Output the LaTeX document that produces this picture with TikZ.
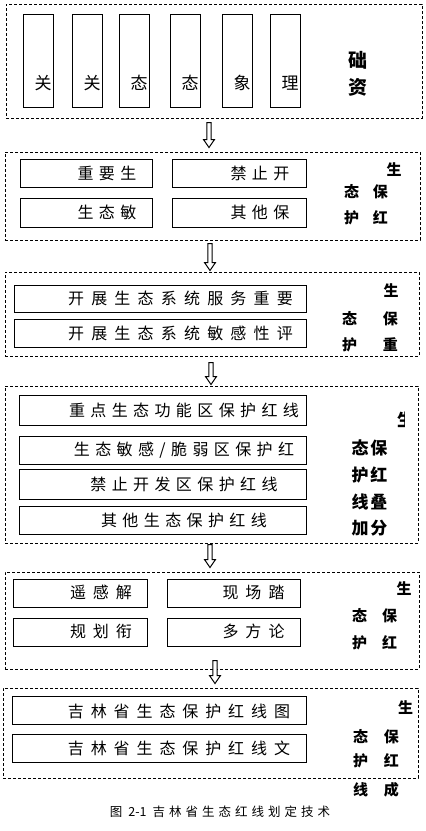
\documentclass[tikz,border=0pt]{standalone}
\usepackage{fontspec}
\setmainfont{Noto Sans CJK SC}
\usetikzlibrary{calc}
\makeatletter
\newcommand\cjkspread[2]{\@tfor\cjk@ch:=#2\do{\cjk@ch\hspace{#1}}\unskip}
\makeatother

\begin{document}
\begin{tikzpicture}[x=1pt, y=-1pt, line width=1pt,
  grp/.style={draw, dash pattern=on 3pt off 2pt, inner sep=0pt},
  tbox/.style={draw, inner sep=0pt},
  txt/.style={font=\fontsize{16pt}{18pt}\selectfont, inner sep=0pt},
  lbl/.style={font=\fontsize{15pt}{17pt}\selectfont\bfseries, inner sep=0pt},
  darrow/.style={fill=white, to path={let \p1=(\tikztostart), \p2=(\tikztotarget) in
    (\x1-2.2pt,\y1) -- (\x1-2.2pt,\y2+8pt) -- (\x1-5.5pt,\y2+8pt) -- (\x1,\y2)
    -- (\x1+5.5pt,\y2+8pt) -- (\x1+2.2pt,\y2+8pt) -- (\x1+2.2pt,\y1) -- cycle}}]
\path[use as bounding box, fill=white] (0,0) rectangle (426,831);

% ---- group 1: base data ----
\node[grp, minimum width=416pt, minimum height=114pt] (g1) at (214,61) {};
\foreach \cx/\ch [count=\i] in {38/关,87/关,134/态,185/态,237/象,285/理} {
  \node[tbox, minimum width=30pt, minimum height=93pt] (c\i) at (\cx,60.5) {};
  \node[txt, font=\fontsize{17pt}{19pt}\selectfont] (ct\i) at (\cx+5,83) {\ch};
}
\node[lbl, font=\fontsize{19pt}{27pt}\selectfont\bfseries, align=center] (l1) at (358,73.5) {础\\资};

% ---- group 2 ----
\node[grp, minimum width=415pt, minimum height=88pt] (g2) at (212.5,196) {};
\node[tbox, minimum width=132pt, minimum height=28pt] (b21) at (86,173) {};
\node[tbox, minimum width=134pt, minimum height=28pt] (b22) at (239,173) {};
\node[tbox, minimum width=132pt, minimum height=29pt] (b23) at (86,212.5) {};
\node[tbox, minimum width=134pt, minimum height=29pt] (b24) at (239,212.5) {};
\node[txt] (t21) at (107,173) {\cjkspread{5.5pt}{重要生}};
\node[txt] (t22) at (260,173) {\cjkspread{5.5pt}{禁止开}};
\node[txt] (t23) at (107,212) {\cjkspread{5.5pt}{生态敏}};
\node[txt] (t24) at (260,212) {\cjkspread{5.5pt}{其他保}};
\node[lbl] (l2a) at (394,170) {生};
\node[lbl] (l2b) at (366,192) {态\hspace{14pt}保};
\node[lbl] (l2c) at (366,218) {护\hspace{14pt}红};

% ---- group 3 ----
\node[grp, minimum width=414pt, minimum height=84pt] (g3) at (212,314) {};
\node[tbox, minimum width=292pt, minimum height=27pt] (b31) at (160,298.5) {};
\node[tbox, minimum width=292pt, minimum height=28pt] (b32) at (160,333) {};
\node[txt] (t31) at (180.5,298) {\cjkspread{7.2pt}{开展生态系统服务重要}};
\node[txt] (t32) at (180.5,333) {\cjkspread{7.2pt}{开展生态系统敏感性评}};
\node[lbl] (l3a) at (391,291) {生};
\node[lbl] (l3b) at (370,319) {态\hspace{26pt}保};
\node[lbl] (l3c) at (370,345) {护\hspace{26pt}重};

% ---- group 4 ----
\node[grp, minimum width=413pt, minimum height=157pt] (g4) at (211.5,464.5) {};
\node[tbox, minimum width=287pt, minimum height=30pt] (b41) at (162.5,410) {};
\node[tbox, minimum width=287pt, minimum height=28pt] (b42) at (162.5,450) {};
\node[tbox, minimum width=287pt, minimum height=30pt] (b43) at (162.5,484) {};
\node[tbox, minimum width=287pt, minimum height=28pt] (b44) at (162.5,520) {};
\node[txt] (t41) at (184,410) {\cjkspread{5.4pt}{重点生态功能区保护红线}};
\node[txt] (t42) at (184,450) {\cjkspread{5.4pt}{生态敏感/脆弱区保护红}};
\node[txt] (t43) at (184,484) {\cjkspread{5.4pt}{禁止开发区保护红线}};
\node[txt] (t44) at (184,520) {\cjkspread{5.4pt}{其他生态保护红线}};
\begin{scope}
  \clip (390,408) rectangle (404,432);
  \node[lbl, font=\fontsize{17pt}{19pt}\selectfont\bfseries] (l4a) at (405.5,420) {生};
\end{scope}
\node[lbl, font=\fontsize{17pt}{19pt}\selectfont\bfseries] (l4b) at (369.5,447.5) {态\hspace{2pt}保};
\node[lbl, font=\fontsize{17pt}{19pt}\selectfont\bfseries] (l4c) at (369.5,475) {护\hspace{2pt}红};
\node[lbl, font=\fontsize{17pt}{19pt}\selectfont\bfseries] (l4d) at (369.5,501.5) {线\hspace{2pt}叠};
\node[lbl, font=\fontsize{17pt}{19pt}\selectfont\bfseries] (l4e) at (369.5,528.5) {加\hspace{2pt}分};

% ---- group 5 ----
\node[grp, minimum width=414pt, minimum height=97pt] (g5) at (212,620.5) {};
\node[tbox, minimum width=134pt, minimum height=28pt] (b51) at (80,593) {};
\node[tbox, minimum width=133pt, minimum height=28pt] (b52) at (233.5,593) {};
\node[tbox, minimum width=134pt, minimum height=28pt] (b53) at (80,632) {};
\node[tbox, minimum width=133pt, minimum height=28pt] (b54) at (233.5,632) {};
\node[txt] (t51) at (101,592) {\cjkspread{7pt}{遥感解}};
\node[txt] (t52) at (253.5,592) {\cjkspread{7pt}{现场踏}};
\node[txt] (t53) at (101,631) {\cjkspread{7pt}{规划衔}};
\node[txt] (t54) at (253.5,631) {\cjkspread{7pt}{多方论}};
\node[lbl] (l5a) at (404,589) {生};
\node[lbl] (l5b) at (374.5,615.5) {态\hspace{15pt}保};
\node[lbl] (l5c) at (374.5,642.5) {护\hspace{15pt}红};

% ---- group 6 ----
\node[grp, minimum width=415pt, minimum height=90pt] (g6) at (210.5,733) {};
\node[tbox, minimum width=294pt, minimum height=28pt] (b61) at (159,710) {};
\node[tbox, minimum width=294pt, minimum height=28pt] (b62) at (159,748) {};
\node[txt] (t61) at (179,711) {\cjkspread{6.9pt}{吉林省生态保护红线图}};
\node[txt] (t62) at (179,748) {\cjkspread{6.9pt}{吉林省生态保护红线文}};
\node[lbl] (l6a) at (405.5,707.5) {生};
\node[lbl] (l6b) at (376,736.5) {态\hspace{16pt}保};
\node[lbl] (l6c) at (376,760.5) {护\hspace{16pt}红};
\node[lbl] (l6d) at (376,789.5) {线\hspace{16pt}成};

% ---- caption ----
\node[txt, font=\fontsize{12.5pt}{14pt}\selectfont] (cap) at (220,812)
  {图\hspace{6pt}2-1\hspace{6pt}\cjkspread{4pt}{吉林省生态红线划定技术}};

% ---- flow arrows ----
\draw[darrow] ([xshift=-5pt,yshift=-4pt]g1.south) to ([yshift=4pt]g2.north);
\draw[darrow] ([xshift=-2.5pt,yshift=-3pt]g2.south) to ([yshift=1pt]g3.north);
\draw[darrow] ([xshift=-1pt,yshift=-6pt]g3.south) to ([yshift=1pt]g4.north);
\draw[darrow] ([xshift=-1.5pt,yshift=-1pt]g4.south) to ([yshift=4pt]g5.north);
\draw[darrow] ([xshift=3pt,yshift=9pt]g5.south) to ([yshift=4pt]g6.north);
\end{tikzpicture}
\end{document}
